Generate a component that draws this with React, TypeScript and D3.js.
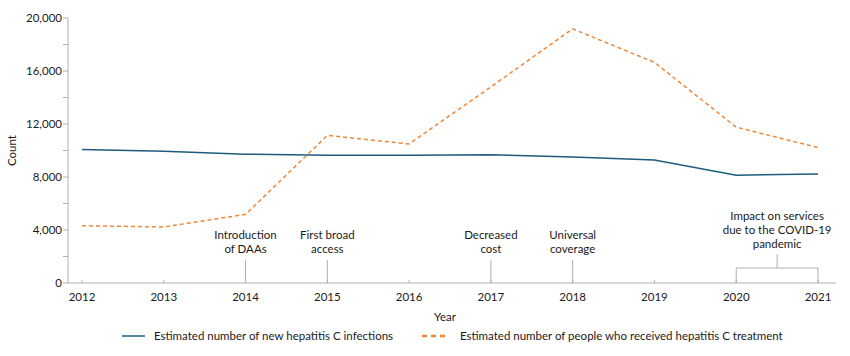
import React from "react";
import * as d3 from "d3";

const years = [2012, 2013, 2014, 2015, 2016, 2017, 2018, 2019, 2020, 2021];
const infections = [10080, 9950, 9720, 9650, 9650, 9680, 9510, 9290, 8130, 8230];
const treatment = [4320, 4230, 5180, 11140, 10490, 14800, 19180, 16650, 11760, 10220];
const yTicks = [0, 4000, 8000, 12000, 16000, 20000];
const yMinorTicks = [2000, 6000, 10000, 14000, 18000];

const annotations = [
  { year: 2014, lines: ["Introduction", "of DAAs"] },
  { year: 2015, lines: ["First broad", "access"] },
  { year: 2017, lines: ["Decreased", "cost"] },
  { year: 2018, lines: ["Universal", "coverage"] },
];
const covidLines = ["Impact on services", "due to the COVID-19", "pandemic"];
const seriesNames = [
  "Estimated number of new hepatitis C infections",
  "Estimated number of people who received hepatitis C treatment",
];

const W = 850;
const H = 356;
const FONT = "'Lato', 'Noto Sans', sans-serif";
const FS = 11.5;
const BLUE = "#1d5c7e";
const ORANGE = "#f0883a";
const AXIS = "#b0b0b0";
const TEXT = "#1a1a1a";

export default function App() {
  const x = d3.scaleLinear().domain([2012, 2021]).range([82, 818]);
  const y = d3.scaleLinear().domain([0, 20000]).range([283, 18]);
  const line = d3
    .line<number>()
    .x((_, i) => x(years[i]))
    .y((d) => y(d));

  return (
    <svg
      width={W}
      height={H}
      style={{ position: "absolute", left: 0, top: 0 }}
      fontFamily={FONT}
    >
      {/* Y axis */}
      <line x1={68} x2={68} y1={y(20000)} y2={y(0)} stroke={AXIS} />
      {yTicks.map((t) => (
        <g key={t}>
          <line x1={63} x2={68} y1={y(t)} y2={y(t)} stroke={AXIS} />
          <text
            x={62}
            y={y(t)}
            dy="0.35em"
            textAnchor="end"
            fontSize={FS}
            fill={TEXT}
          >
            {d3.format(",")(t)}
          </text>
        </g>
      ))}
      {yMinorTicks.map((t) => (
        <line key={t} x1={63} x2={68} y1={y(t)} y2={y(t)} stroke={AXIS} />
      ))}
      <text
        transform={`translate(16,${y(10000)}) rotate(-90)`}
        textAnchor="middle"
        fontSize={FS}
        fill={TEXT}
      >
        Count
      </text>

      {/* X axis */}
      <line x1={68} x2={836} y1={y(0)} y2={y(0)} stroke={AXIS} />
      {years.map((yr) => (
        <g key={yr}>
          <line x1={x(yr)} x2={x(yr)} y1={y(0) - 3} y2={y(0)} stroke={AXIS} />
          <text
            x={x(yr)}
            y={301}
            textAnchor="middle"
            fontSize={FS}
            fill={TEXT}
          >
            {yr}
          </text>
        </g>
      ))}
      <text x={445} y={321} textAnchor="middle" fontSize={FS} fill={TEXT}>
        Year
      </text>

      {/* Annotations */}
      {annotations.map((a) => (
        <g key={a.year}>
          <line
            x1={x(a.year)}
            x2={x(a.year)}
            y1={260}
            y2={y(0)}
            stroke={AXIS}
          />
          {a.lines.map((l, i) => (
            <text
              key={i}
              x={x(a.year)}
              y={239 + i * 14}
              textAnchor="middle"
              fontSize={FS}
              fill={TEXT}
            >
              {l}
            </text>
          ))}
        </g>
      ))}
      <path
        d={`M${x(2020)},${y(0)}V268H${x(2021)}V${y(0)}M${(x(2020) + x(2021)) / 2},268V254`}
        fill="none"
        stroke={AXIS}
      />
      {covidLines.map((l, i) => (
        <text
          key={i}
          x={(x(2020) + x(2021)) / 2}
          y={220 + i * 14}
          textAnchor="middle"
          fontSize={FS}
          fill={TEXT}
        >
          {l}
        </text>
      ))}

      {/* Series */}
      <path d={line(infections) || ""} fill="none" stroke={BLUE} strokeWidth={1.5} />
      <path
        d={line(treatment) || ""}
        fill="none"
        stroke={ORANGE}
        strokeWidth={1.5}
        strokeDasharray="4,3"
      />

      {/* Legend */}
      <line x1={122} x2={145} y1={336} y2={336} stroke={BLUE} strokeWidth={1.5} />
      <text x={154} y={336} dy="0.35em" fontSize={FS} fill={TEXT}>
        {seriesNames[0]}
      </text>
      <line
        x1={422}
        x2={448}
        y1={336}
        y2={336}
        stroke={ORANGE}
        strokeWidth={2.5}
        strokeDasharray="5,4"
      />
      <text x={460} y={336} dy="0.35em" fontSize={FS} fill={TEXT}>
        {seriesNames[1]}
      </text>
    </svg>
  );
}
